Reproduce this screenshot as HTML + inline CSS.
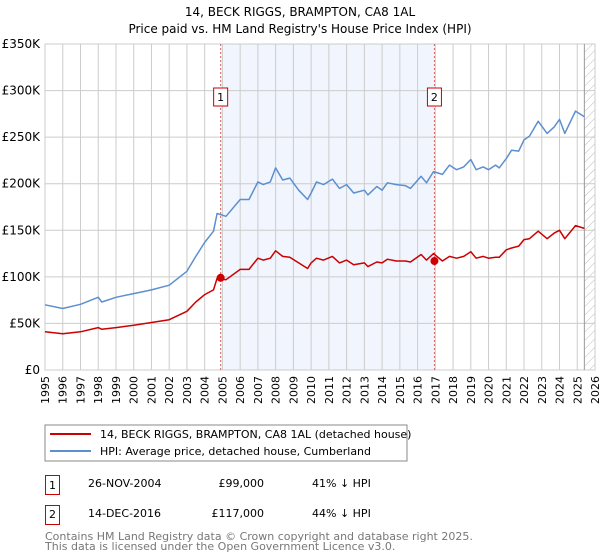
<!DOCTYPE html>
<html><head><meta charset="utf-8"><style>
body{margin:0;background:#fff;}
svg{display:block;font-family:"DejaVu Sans","Liberation Sans",sans-serif;}
</style></head><body>
<svg id="chart" width="600" height="560" viewBox="0 0 600 560">
<defs><pattern id="hatch" width="6" height="6" patternUnits="userSpaceOnUse" patternTransform="rotate(45)"><line x1="0" y1="0" x2="0" y2="6" stroke="#bbb" stroke-width="1"/></pattern></defs>
<text x="300" y="16" text-anchor="middle" font-size="12" fill="#000">14, BECK RIGGS, BRAMPTON, CA8 1AL</text>
<text x="300" y="33" text-anchor="middle" font-size="12" fill="#000">Price paid vs. HM Land Registry's House Price Index (HPI)</text>
<g id="plot"></g>
<g>
<rect x="45" y="425" width="362" height="36" fill="#fff" stroke="#888"/>
<line x1="50" y1="434" x2="91" y2="434" stroke="#cc0000" stroke-width="2"/>
<text x="100" y="438" font-size="11">14, BECK RIGGS, BRAMPTON, CA8 1AL (detached house)</text>
<line x1="50" y1="451" x2="91" y2="451" stroke="#5b8fd0" stroke-width="2"/>
<text x="100" y="455" font-size="11">HPI: Average price, detached house, Cumberland</text>
</g>
<g font-size="11">
<rect x="45.5" y="475.5" width="14" height="19" fill="#fff" stroke="#cc0000"/>
<text x="52.5" y="489" text-anchor="middle">1</text>
<text x="88" y="487">26-NOV-2004</text>
<text x="264" y="487" text-anchor="end">£99,000</text>
<text x="312" y="487">41% ↓ HPI</text>
<rect x="45.5" y="505.5" width="14" height="19" fill="#fff" stroke="#cc0000"/>
<text x="52.5" y="518" text-anchor="middle">2</text>
<text x="88" y="517">14-DEC-2016</text>
<text x="264" y="517" text-anchor="end">£117,000</text>
<text x="312" y="517">44% ↓ HPI</text>
</g>
<text x="45" y="540" font-size="11" fill="#777">Contains HM Land Registry data © Crown copyright and database right 2025.</text>
<text x="45" y="550" font-size="11" fill="#777">This data is licensed under the Open Government Licence v3.0.</text>
</svg>
<script>
const years = [1995,1996,1997,1998,1998.2,1999,2000,2001,2002,2003,2003.5,2004,2004.5,2004.7,2005.2,2006,2006.5,2007,2007.3,2007.7,2008,2008.4,2008.8,2009.3,2009.8,2010,2010.3,2010.7,2011.2,2011.6,2012,2012.4,2013,2013.2,2013.7,2014,2014.3,2014.8,2015.3,2015.6,2016.2,2016.5,2016.9,2017.4,2017.8,2018.2,2018.6,2019,2019.3,2019.7,2020,2020.4,2020.6,2021,2021.3,2021.7,2022,2022.3,2022.8,2023.3,2023.7,2024,2024.3,2024.9,2025.4];
const hpiValues = [70,66,70.5,78,73,78,82,86,91,106,122,137,149,168,165,183,183,202,199,202,217,204,206,193,183,190,202,199,205,195,199,190,193,188,197,193,201,199,198,195,208,201,213,210,220,215,218,226,215,218,215,220,217,227,236,235,247,251,267,254,261,269,254,278,272];
const propValues = [41,39,41,45.5,43.7,45.5,48,51,54,63,73,81,86,98.5,97,108,108,120,118,120,128,122,121,115,109,115,120,118,122,115,118,113,115,111,116,115,119,117,117,116,124,118,125,117,122,120,122,127,120,122,120,121,121,129,131,133,140,141,149,141,147,150,141,155,152];
const saleYears = [2004.9,2016.95];
const saleValues = [99,117];
const saleLabels = ["1","2"];
const yTicks = [0,50,100,150,200,250,300,350];
const yTickLabels = ["£0","£50K","£100K","£150K","£200K","£250K","£300K","£350K"];
const xTicks = [1995,1996,1997,1998,1999,2000,2001,2002,2003,2004,2005,2006,2007,2008,2009,2010,2011,2012,2013,2014,2015,2016,2017,2018,2019,2020,2021,2022,2023,2024,2025,2026];

const L=45,R=595,T=44,B=370;
const xs=y=>L+(y-1995)*(R-L)/31;
const ys=v=>B-v*(B-T)/350;
const NS="http://www.w3.org/2000/svg";
const g=document.getElementById('plot');
function mk(tag,attrs,parent){const e=document.createElementNS(NS,tag);for(const k in attrs)e.setAttribute(k,attrs[k]);(parent||g).appendChild(e);return e;}

let e=mk('rect',{x:xs(saleYears[0]),y:T,width:xs(saleYears[1])-xs(saleYears[0]),height:B-T,fill:'#eef3fc',opacity:0.8});


e=mk('rect',{x:xs(2025.4),y:T,width:R-xs(2025.4),height:B-T,fill:'url(#hatch)'});


xTicks.forEach((t,i)=>{
  let l=mk('line',{x1:xs(t),x2:xs(t),y1:T,y2:B,stroke:'#ccc','stroke-width':1});
  
  
  let tx=mk('text',{x:0,y:0,'font-size':11,'text-anchor':'end',transform:`translate(${xs(t)+4},376) rotate(-90)`});
  tx.textContent=t;
  
  
});
yTicks.forEach((t,i)=>{
  let l=mk('line',{x1:L,x2:R,y1:ys(t),y2:ys(t),stroke:'#ccc','stroke-width':1});
  
  
  let tx=mk('text',{x:L-5,y:ys(t)+4,'font-size':12,'text-anchor':'end'});
  tx.textContent=yTickLabels[i];
  
  
});
e=mk('rect',{x:L,y:T,width:R-L,height:B-T,fill:'none',stroke:'#ccc'});


e=mk('line',{x1:xs(2025.4),x2:xs(2025.4),y1:T,y2:B,stroke:'#999'});


saleYears.forEach((s,i)=>{
  let l=mk('line',{x1:xs(s),x2:xs(s),y1:T,y2:B,stroke:'#e06060','stroke-dasharray':'2,2'});
  
  
});
function path(vals,color,name){
  const d=years.map((y,i)=>(i?'L':'M')+xs(y).toFixed(1)+','+ys(vals[i]).toFixed(1)).join('');
  let p=mk('path',{d:d,fill:'none',stroke:color,'stroke-width':1.5,'stroke-linejoin':'round'});
  
  
}
path(hpiValues,'#5b8fd0','hpi-line');
path(propValues,'#cc0000','property-line');
saleYears.forEach((s,i)=>{
  let c=mk('circle',{cx:xs(s),cy:ys(saleValues[i]),r:4,fill:'#cc0000'});
  
  
  let r=mk('rect',{x:xs(s)-7,y:88,width:14,height:18,fill:'#fff',stroke:'#cc0000'});
  
  
  let t=mk('text',{x:xs(s),y:101,'font-size':11,'text-anchor':'middle'});
  t.textContent=saleLabels[i];
  
  
});
</script>
</body></html>
